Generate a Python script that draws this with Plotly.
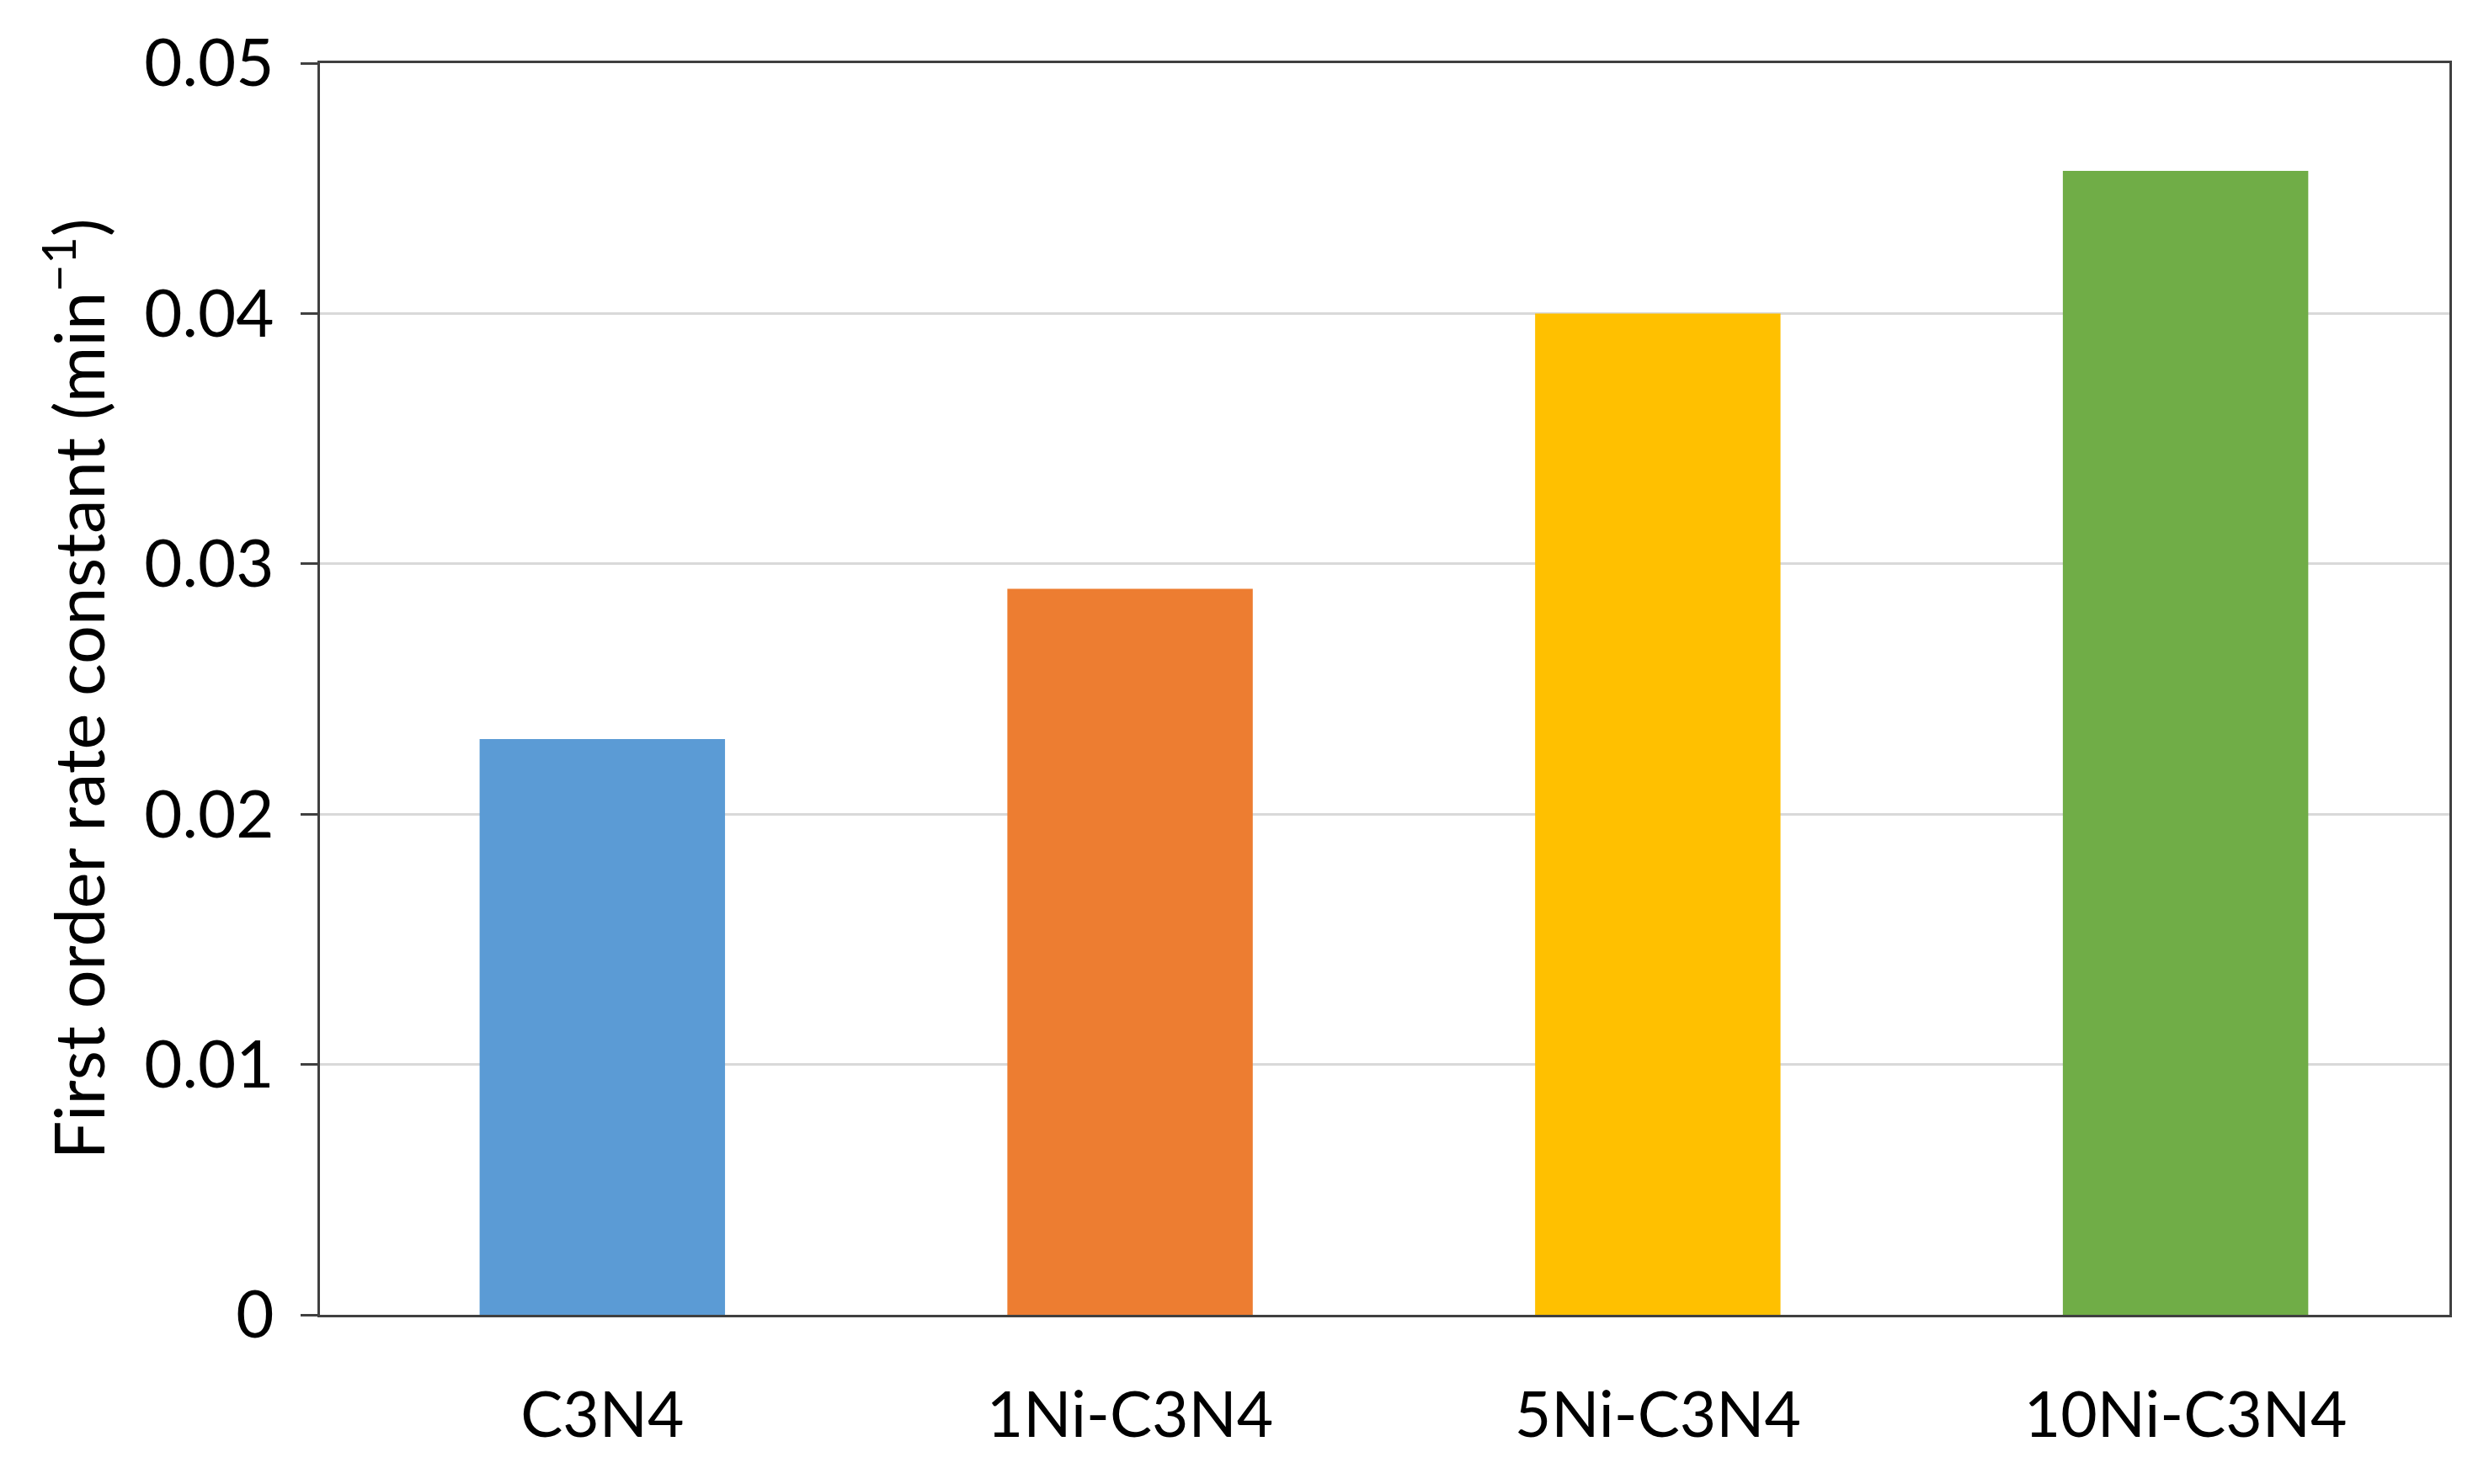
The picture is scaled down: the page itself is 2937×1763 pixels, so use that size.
import plotly.graph_objects as go

categories = ["C3N4", "1Ni-C3N4", "5Ni-C3N4", "10Ni-C3N4"]
rate_constants = [0.023, 0.029, 0.040, 0.0457]
bar_colors = ["#5B9BD5", "#ED7D31", "#FFC000", "#70AD47"]
y_tick_values = [0, 0.01, 0.02, 0.03, 0.04, 0.05]
y_tick_labels = ["0", "0.01", "0.02", "0.03", "0.04", "0.05"]

FONT = "Lato, 'Open Sans', 'Liberation Sans', sans-serif"

fig = go.Figure(
    go.Bar(
        x=categories,
        y=rate_constants,
        marker=dict(color=bar_colors, line=dict(width=0)),
        width=0.465,
        showlegend=False,
    )
)

fig.update_layout(
    width=2937,
    height=1763,
    margin=dict(l=372, r=36, t=67, b=209),
    paper_bgcolor="white",
    plot_bgcolor="white",
    font=dict(family=FONT, size=76, color="black"),
)

fig.update_xaxes(
    range=[-0.535, 3.5],
    showline=True,
    linecolor="#404040",
    linewidth=3,
    mirror=True,
    ticks="",
    ticklabelstandoff=52,
    tickfont=dict(size=75, color="black"),
    showgrid=False,
)

fig.update_yaxes(
    range=[0, 0.05],
    tickvals=y_tick_values,
    ticktext=y_tick_labels,
    showline=True,
    linecolor="#404040",
    linewidth=3,
    mirror=True,
    ticks="outside",
    ticklen=20,
    tickwidth=3,
    tickcolor="#404040",
    ticklabelstandoff=16,
    showgrid=True,
    gridcolor="#D9D9D9",
    gridwidth=3,
    zeroline=False,
    tickfont=dict(size=78, color="black"),
    title=dict(
        text="First order rate constant (min<sup>−1</sup>)",
        font=dict(size=81, color="black"),
        standoff=20,
    ),
)

fig.write_html("out.html")
